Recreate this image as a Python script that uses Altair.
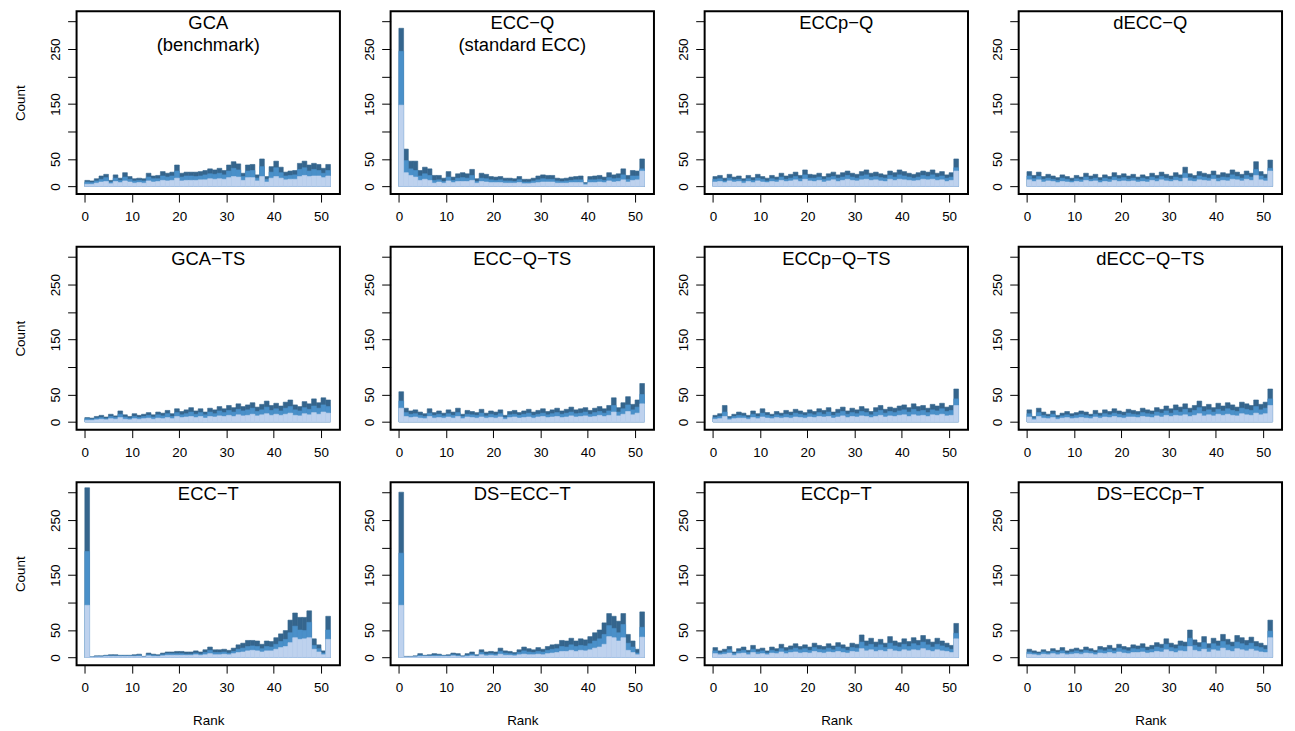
import altair as alt
import pandas as pd

RANKS = list(range(52))

TITLES = ["GCA\n(benchmark)", "ECC\u2212Q\n(standard ECC)", "ECCp\u2212Q", "dECC\u2212Q",
          "GCA\u2212TS", "ECC\u2212Q\u2212TS", "ECCp\u2212Q\u2212TS", "dECC\u2212Q\u2212TS",
          "ECC\u2212T", "DS\u2212ECC\u2212T", "ECCp\u2212T", "DS\u2212ECCp\u2212T"]

# ---- panel 1: GCA ----
top1 = [11,10,14,19,22,11,21,15,25,18,14,15,14,24,19,20,27,24,26,39,24,26,26,26,27,29,32,30,33,29,39,45,41,24,39,40,21,50,18,36,46,35,26,28,29,42,46,39,42,40,33,40]
mid1 = [8,7,10,13,16,8,15,11,17,13,10,11,10,17,14,14,19,17,19,28,17,19,19,18,19,21,23,22,24,21,28,33,30,18,28,29,15,36,13,26,34,25,19,20,21,31,34,28,31,29,24,29]
low1 = [4,4,6,8,9,5,9,7,10,8,6,7,6,10,8,9,11,10,11,15,10,11,11,11,12,12,14,13,14,13,16,18,17,11,16,16,10,18,8,15,18,15,12,13,13,18,20,18,19,19,16,19]
# ---- panel 2: ECC-Q ----
top2 = [288,68,46,46,29,35,32,20,20,15,27,17,23,25,23,31,14,24,22,18,17,18,15,15,14,18,13,13,15,19,21,20,20,15,14,15,17,18,19,7,18,19,20,17,25,21,23,32,20,29,28,50]
mid2 = [246,47,32,29,19,23,20,11,12,9,17,11,15,16,15,20,9,15,14,12,11,12,10,10,9,12,8,8,10,12,14,13,13,10,9,10,11,12,12,5,12,12,13,11,16,14,15,21,13,19,19,32]
low2 = [148,25,20,17,11,13,11,6,8,6,10,7,9,9,9,11,6,9,8,7,7,7,6,6,6,7,5,5,6,7,8,8,8,6,6,6,7,7,7,3,7,7,8,7,10,8,9,12,8,11,12,28]
# ---- panel 3: ECCp-Q ----
top3 = [18,20,15,22,17,19,14,20,16,22,18,15,20,17,24,19,22,26,20,30,22,21,24,18,23,26,21,25,28,24,22,27,30,24,26,23,21,28,25,30,27,24,22,25,28,26,30,24,27,21,25,50]
mid3 = [13,14,10,15,12,13,10,14,11,15,13,10,14,12,17,13,15,18,14,21,15,15,17,13,16,18,15,17,20,17,15,19,21,17,18,16,15,20,17,21,19,17,15,17,20,18,21,17,19,15,17,34]
low3 = [8,9,7,10,8,9,6,9,7,10,8,7,9,8,11,9,10,12,9,13,10,9,11,8,10,12,9,11,13,11,10,12,13,11,12,10,9,13,11,13,12,11,10,11,13,12,13,11,12,9,11,28]
# ---- panel 4: dECC-Q ----
top4 = [27,20,26,18,22,19,16,21,18,15,20,17,24,19,22,16,21,18,25,20,23,19,22,17,21,18,24,20,26,22,19,25,21,35,23,20,27,24,22,28,21,25,23,30,26,22,28,24,45,27,22,48]
mid4 = [19,14,18,13,15,13,11,15,13,10,14,12,17,13,15,11,15,13,17,14,16,13,15,12,15,13,17,14,18,15,13,17,15,24,16,14,19,17,15,20,15,17,16,21,18,15,20,17,31,19,15,33]
low4 = [12,9,12,8,10,9,7,9,8,7,9,8,11,9,10,7,9,8,11,9,10,9,10,8,9,8,11,9,12,10,9,11,9,15,10,9,12,11,10,13,9,11,10,13,12,10,13,11,20,12,10,28]
# ---- panel 5: GCA-TS ----
top5 = [8,7,10,12,9,14,11,20,13,10,15,12,14,17,13,18,16,21,15,24,19,22,26,20,24,18,25,22,28,24,30,26,33,28,31,35,27,32,38,30,34,29,36,40,31,28,37,33,42,35,44,40]
mid5 = [6,5,7,8,6,10,8,14,9,7,10,8,10,12,9,13,11,15,10,17,13,15,18,14,17,13,18,15,20,17,21,18,23,20,22,25,19,22,27,21,24,20,25,28,22,20,26,23,29,25,31,28]
low5 = [3,3,4,5,4,6,5,8,5,4,6,5,6,7,5,7,6,8,6,10,8,9,10,8,10,7,10,9,11,10,12,10,13,11,12,14,11,13,15,12,14,12,14,16,12,11,15,13,17,14,18,16]
# ---- panel 6: ECC-Q-TS ----
top6 = [55,25,20,22,18,15,24,17,20,16,22,18,25,14,21,19,17,23,16,20,18,22,12,19,21,17,20,23,18,21,24,19,22,25,20,23,27,22,24,26,21,25,28,24,30,44,26,35,46,32,40,70]
mid6 = [38,17,14,15,12,10,16,12,14,11,15,12,17,10,14,13,12,16,11,14,12,15,8,13,14,12,14,16,12,14,16,13,15,17,14,16,18,15,16,18,14,17,19,16,20,30,18,24,31,22,27,50]
low6 = [25,10,8,9,7,6,10,7,8,7,9,7,10,6,9,8,7,9,7,8,7,9,5,8,9,7,8,9,7,9,10,8,9,10,8,9,11,9,10,11,9,10,12,10,12,18,11,14,19,13,16,33]
# ---- panel 7: ECCp-Q-TS ----
top7 = [12,15,30,10,14,18,16,12,20,15,24,17,14,19,16,21,18,23,20,17,22,19,24,21,26,18,23,27,20,25,22,28,24,19,26,30,23,27,25,29,31,26,33,28,30,25,32,29,34,27,30,60]
mid7 = [8,10,18,7,10,12,11,8,14,10,16,12,10,13,11,14,12,16,14,12,15,13,17,14,18,12,16,19,14,17,15,19,17,13,18,21,16,19,17,20,22,18,23,19,21,17,22,20,24,19,21,42]
low7 = [5,6,10,4,6,7,7,5,8,6,9,7,6,8,7,8,7,9,8,7,9,8,10,9,10,7,9,11,8,10,9,11,10,8,10,12,9,11,10,12,13,10,13,11,12,10,13,12,14,11,12,30]
# ---- panel 8: dECC-Q-TS ----
top8 = [22,10,25,18,14,20,12,16,19,15,17,20,18,14,21,16,22,19,24,20,18,23,21,19,25,22,20,26,23,29,24,31,27,33,25,30,38,28,32,26,34,29,35,31,27,36,33,30,40,32,36,60]
mid8 = [15,7,17,12,10,14,8,11,13,10,12,14,12,10,14,11,15,13,16,14,12,16,14,13,17,15,14,18,16,20,16,21,18,23,17,21,26,19,22,18,23,20,24,21,19,25,23,21,28,22,25,42]
low8 = [9,4,10,7,6,8,5,7,8,6,7,8,7,6,9,7,9,8,10,8,7,9,9,8,10,9,8,11,9,12,10,12,11,13,10,12,15,11,13,11,14,12,14,12,11,15,13,12,16,13,15,30]
# ---- panel 9: ECC-T ----
top9 = [309,1,3,3,4,5,5,4,4,4,5,6,2,8,6,5,8,10,10,11,11,10,10,12,10,14,19,14,14,15,13,17,23,26,31,31,30,24,30,29,36,43,49,68,81,73,73,85,34,23,12,75]
mid9 = [193,1,2,2,3,3,3,3,3,3,3,4,1,5,4,3,5,7,7,7,7,6,6,8,6,9,13,9,9,10,8,11,15,17,20,21,20,16,20,19,24,29,33,45,57,50,49,64,22,16,8,50]
low9 = [95,0,1,1,2,2,2,2,2,2,2,2,1,3,2,2,3,4,4,4,4,4,4,5,4,5,7,5,5,6,5,7,9,10,12,13,12,10,12,12,15,18,20,27,36,33,34,36,15,10,5,33]
# ---- panel 10: DS-ECC-T ----
top10 = [301,2,2,3,7,4,5,7,6,4,5,8,7,3,7,10,5,14,10,11,10,17,12,11,9,14,19,16,14,18,15,20,23,24,31,30,35,30,34,32,38,45,50,63,80,75,66,80,42,30,15,83]
mid10 = [190,1,1,2,4,3,3,4,4,3,3,5,4,2,4,6,3,9,6,7,6,11,8,7,6,9,12,10,9,11,10,13,15,16,20,19,23,20,22,21,25,30,34,42,58,53,45,60,26,19,8,55]
low10 = [95,1,1,1,2,2,2,2,2,2,2,3,2,1,2,3,2,5,3,4,3,6,4,4,3,5,6,5,5,6,5,7,8,9,11,11,13,11,13,12,14,17,19,24,38,36,30,36,13,9,5,37]
# ---- panel 11: ECCp-T ----
top11 = [18,12,15,20,10,16,19,13,22,15,17,12,19,16,24,18,21,25,20,23,19,26,22,20,25,21,27,23,19,26,24,41,30,35,28,33,26,38,30,27,34,29,36,31,40,33,28,35,30,26,22,62]
mid11 = [12,8,10,14,7,11,13,9,15,10,12,8,13,11,16,12,14,17,14,16,13,18,15,14,17,14,19,16,13,18,17,28,21,24,19,23,18,26,21,19,24,20,25,22,28,23,19,24,21,18,15,44]
low11 = [7,5,6,8,4,7,8,5,9,6,7,5,8,7,10,7,9,10,8,9,8,11,9,8,10,9,11,9,8,11,10,16,12,14,11,13,11,15,12,11,14,12,14,13,16,13,11,14,12,11,9,34]
# ---- panel 12: DS-ECCp-T ----
top12 = [15,12,10,14,11,16,13,18,12,15,17,14,19,16,13,20,18,22,17,24,20,18,23,21,25,19,22,27,24,34,26,23,30,28,50,32,27,38,25,35,30,42,33,28,40,36,31,37,29,26,22,68]
mid12 = [10,8,7,10,8,11,9,12,8,10,12,10,13,11,9,14,12,15,12,17,14,12,16,15,17,13,15,19,17,24,18,16,21,20,35,22,19,27,17,25,21,29,23,20,28,25,22,26,20,18,15,48]
low12 = [6,5,4,6,5,7,5,7,5,6,7,6,8,7,5,8,7,9,7,10,8,7,9,9,10,8,9,11,10,14,11,9,12,11,20,13,11,15,10,14,12,17,13,11,16,14,12,15,12,10,9,36]

TOPS = [top1, top2, top3, top4, top5, top6, top7, top8, top9, top10, top11, top12]
MIDS = [mid1, mid2, mid3, mid4, mid5, mid6, mid7, mid8, mid9, mid10, mid11, mid12]
LOWS = [low1, low2, low3, low4, low5, low6, low7, low8, low9, low10, low11, low12]

X_TICKS = [0, 10, 20, 30, 40, 50]
Y_TICKS = [0, 50, 100, 150, 200, 250, 300]
Y_LABELED = [0, 50, 150, 250]

DARK = "#35658d"
MED = "#4a90c9"
LIGHT = "#bed2ee"

W, H = 265, 184
FONT = "Liberation Sans"

xs = alt.Scale(domain=[-1.75, 54.0], nice=False, zero=False)
ys = alt.Scale(domain=[-14, 319], nice=False, zero=False)


def panel(i, col, row):
    df = pd.DataFrame({
        "lo": RANKS,
        "hi": [r + 1 for r in RANKS],
        "top": TOPS[i],
        "mid": MIDS[i],
        "low": LOWS[i],
    })
    xkw = dict(values=X_TICKS, grid=False, domain=False, tickSize=8, tickColor="black",
               labelFontSize=13.5, labelPadding=8, labelColor="black", labelFont=FONT,
               titleFontSize=13.5, titleFont=FONT, titleFontWeight="normal", titlePadding=19,
               titleColor="black", format="d")
    ykw = dict(values=Y_TICKS, grid=False, domain=False, tickSize=9, tickColor="black",
               labelFontSize=13.5, labelPadding=5, labelColor="black", labelFont=FONT,
               labelAngle=270, labelAlign="center", labelBaseline="bottom",
               labelExpr="indexof([0,50,150,250], datum.value) >= 0 ? datum.label : ''",
               titleFontSize=13.5, titleFont=FONT, titleFontWeight="normal", titlePadding=21,
               titleColor="black", format="d")
    xax = alt.Axis(title="Rank", **xkw) if row == 2 else alt.Axis(title=None, **xkw)
    yax = alt.Axis(title="Count", **ykw) if col == 0 else alt.Axis(title=None, **ykw)
    base = alt.Chart(df)
    layers = []
    for field, color in [("top", DARK), ("mid", MED), ("low", LIGHT)]:
        layers.append(
            base.mark_rect(color=color, stroke=color, strokeWidth=0.6).encode(
                x=alt.X("lo:Q", scale=xs, axis=xax),
                x2="hi:Q",
                y=alt.Y(f"{field}:Q", scale=ys, axis=yax),
                y2=alt.datum(0),
            )
        )
    title_df = pd.DataFrame({"t": [TITLES[i]]})
    txt = alt.Chart(title_df).mark_text(
        lineBreak="\n", font=FONT, fontSize=18.5, baseline="top", align="center",
        lineHeight=22, color="black"
    ).encode(text="t:N", x=alt.value(W / 2), y=alt.value(3))
    return alt.layer(*layers, txt).properties(width=W, height=H)


panels = [panel(r * 4 + c, c, r) for r in range(3) for c in range(4)]

chart = alt.concat(*panels, columns=4, spacing={"row": 53, "column": 51}, bounds="flush").properties(
    padding={"left": 5, "top": 0, "right": 4, "bottom": 4}
).configure(background="white").configure_view(stroke="black", strokeWidth=2)

chart.save("out.html", embed_options={"renderer": "svg", "actions": False})
